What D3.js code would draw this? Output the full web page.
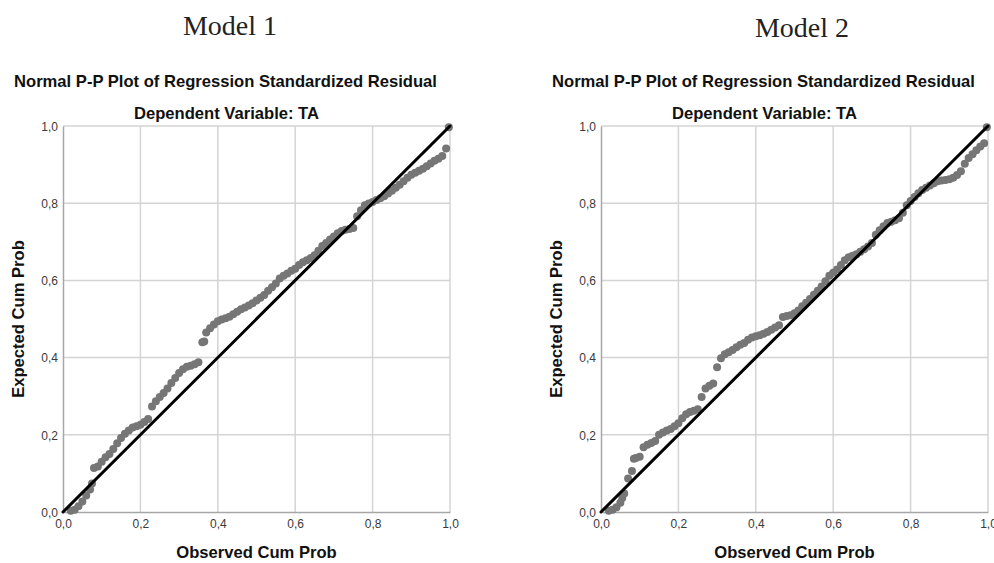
<!DOCTYPE html>
<html>
<head>
<meta charset="utf-8">
<script src="https://cdn.jsdelivr.net/npm/d3@7"></script>
<style>
  body { margin: 0; background: #fff; }
  svg { display: block; }
  .model-title { font-family: "Liberation Serif", "DejaVu Serif", serif; font-size: 28px; fill: #222; }
  .chart-title { font-family: "Liberation Sans", Arial, sans-serif; font-weight: bold; font-size: 16.6px; fill: #111; }
  .axis-label { font-family: "Liberation Sans", Arial, sans-serif; font-weight: bold; font-size: 16.6px; fill: #111; }
  .tick-label { font-family: "Liberation Sans", Arial, sans-serif; font-size: 12px; fill: #3a3a3a; }
</style>
</head>
<body>
<svg id="chart" width="994" height="563"></svg>
<script>
const ticks = [0, 0.2, 0.4, 0.6, 0.8, 1.0];
const modelNames = ["Model 1", "Model 2"];
const chartTitle = "Normal P-P Plot of Regression Standardized Residual";
const subTitle = "Dependent Variable: TA";
const xLabel = "Observed Cum Prob";
const yLabel = "Expected Cum Prob";

// observed cum prob, expected cum prob
const model1 = [
  [0.02, 0.003], [0.03, 0.006], [0.04, 0.015], [0.05, 0.027], [0.06, 0.043],
  [0.07, 0.058], [0.075, 0.074], [0.08, 0.114], [0.09, 0.118], [0.10, 0.130],
  [0.11, 0.142], [0.12, 0.150], [0.13, 0.163], [0.14, 0.178], [0.15, 0.192],
  [0.16, 0.203], [0.17, 0.211], [0.18, 0.219], [0.19, 0.222], [0.20, 0.226],
  [0.21, 0.233], [0.22, 0.241], [0.23, 0.273], [0.24, 0.287], [0.25, 0.298],
  [0.26, 0.308], [0.27, 0.320], [0.28, 0.334], [0.29, 0.347], [0.30, 0.360],
  [0.31, 0.370], [0.32, 0.376], [0.33, 0.379], [0.34, 0.383], [0.35, 0.388],
  [0.36, 0.440], [0.365, 0.442], [0.37, 0.465], [0.38, 0.476], [0.39, 0.486],
  [0.40, 0.494], [0.41, 0.499], [0.42, 0.502], [0.43, 0.506], [0.44, 0.512],
  [0.45, 0.519], [0.46, 0.525], [0.47, 0.530], [0.48, 0.535], [0.49, 0.541],
  [0.50, 0.548], [0.51, 0.555], [0.52, 0.562], [0.53, 0.573], [0.54, 0.582],
  [0.55, 0.592], [0.56, 0.605], [0.57, 0.612], [0.58, 0.618], [0.59, 0.625],
  [0.60, 0.630], [0.61, 0.640], [0.62, 0.647], [0.63, 0.652], [0.64, 0.658],
  [0.65, 0.665], [0.66, 0.677], [0.67, 0.689], [0.68, 0.697], [0.69, 0.706],
  [0.70, 0.714], [0.71, 0.722], [0.72, 0.728], [0.73, 0.731], [0.74, 0.733],
  [0.75, 0.736], [0.76, 0.766], [0.77, 0.782], [0.78, 0.795], [0.79, 0.799],
  [0.80, 0.803], [0.81, 0.808], [0.82, 0.813], [0.83, 0.818], [0.84, 0.825],
  [0.85, 0.832], [0.86, 0.840], [0.87, 0.848], [0.88, 0.857], [0.89, 0.866],
  [0.90, 0.874], [0.91, 0.879], [0.92, 0.884], [0.93, 0.889], [0.94, 0.896],
  [0.95, 0.903], [0.96, 0.910], [0.97, 0.915], [0.98, 0.922], [0.99, 0.942],
  [0.997, 0.997]
];

const model2 = [
  [0.02, 0.003], [0.03, 0.006], [0.04, 0.012], [0.05, 0.024], [0.055, 0.036],
  [0.06, 0.048], [0.07, 0.087], [0.08, 0.106], [0.085, 0.138], [0.09, 0.140],
  [0.10, 0.143], [0.11, 0.168], [0.12, 0.174], [0.13, 0.179], [0.14, 0.184],
  [0.15, 0.200], [0.16, 0.206], [0.17, 0.211], [0.18, 0.215], [0.19, 0.222],
  [0.20, 0.230], [0.21, 0.243], [0.22, 0.253], [0.23, 0.259], [0.24, 0.262],
  [0.25, 0.266], [0.26, 0.298], [0.27, 0.320], [0.28, 0.327], [0.29, 0.333],
  [0.30, 0.375], [0.31, 0.398], [0.32, 0.409], [0.33, 0.414], [0.34, 0.420],
  [0.35, 0.427], [0.36, 0.433], [0.37, 0.438], [0.38, 0.446], [0.39, 0.452],
  [0.40, 0.455], [0.41, 0.458], [0.42, 0.462], [0.43, 0.466], [0.44, 0.472],
  [0.45, 0.478], [0.46, 0.484], [0.47, 0.505], [0.48, 0.508], [0.49, 0.510],
  [0.50, 0.515], [0.51, 0.522], [0.52, 0.533], [0.53, 0.542], [0.54, 0.552],
  [0.55, 0.563], [0.56, 0.573], [0.57, 0.584], [0.58, 0.598], [0.59, 0.612],
  [0.60, 0.620], [0.61, 0.628], [0.62, 0.640], [0.63, 0.652], [0.64, 0.660],
  [0.65, 0.664], [0.66, 0.668], [0.67, 0.674], [0.68, 0.681], [0.69, 0.688],
  [0.70, 0.697], [0.71, 0.718], [0.72, 0.730], [0.73, 0.740], [0.74, 0.749],
  [0.75, 0.752], [0.76, 0.756], [0.77, 0.761], [0.78, 0.775], [0.79, 0.795],
  [0.80, 0.806], [0.81, 0.816], [0.82, 0.826], [0.83, 0.834], [0.84, 0.840],
  [0.85, 0.846], [0.86, 0.852], [0.87, 0.857], [0.88, 0.859], [0.89, 0.860],
  [0.90, 0.862], [0.91, 0.866], [0.92, 0.873], [0.93, 0.883], [0.94, 0.902],
  [0.95, 0.917], [0.96, 0.927], [0.97, 0.937], [0.98, 0.947], [0.99, 0.955],
  [0.997, 0.997]
];

const PANELS = [
  { name: modelNames[0], data: model1, left: 63, right: 450, nameX: 230, nameY: 35 },
  { name: modelNames[1], data: model2, left: 601, right: 988, nameX: 802, nameY: 37 }
];
const TOP = 126;
const BOTTOM = 512;

const tickFormat = d => d3.format(".1f")(d).replace(".", ",");

const svg = d3.select("#chart");

const drawPanel = function(p) {
  const x = d3.scaleLinear().domain([0, 1]).range([p.left, p.right]);
  const y = d3.scaleLinear().domain([0, 1]).range([BOTTOM, TOP]);
  const midTitle = (p.left + p.right) / 2 - 31;
  const g = svg.append("g");

  g.append("text")
    .attr("class", "model-title")
    .attr("x", p.nameX)
    .attr("y", p.nameY)
    .attr("text-anchor", "middle")
    .text(p.name);

  g.append("text")
    .attr("class", "chart-title")
    .attr("x", midTitle)
    .attr("y", 87)
    .attr("text-anchor", "middle")
    .text(chartTitle);

  g.append("text")
    .attr("class", "chart-title")
    .attr("x", midTitle + 1)
    .attr("y", 119)
    .attr("text-anchor", "middle")
    .text(subTitle);

  // grid
  const grid = ticks.filter(t => t > 0);
  g.append("g").selectAll("line.vx")
    .data(grid).enter().append("line")
    .attr("x1", d => x(d)).attr("x2", d => x(d))
    .attr("y1", y(0)).attr("y2", y(1))
    .attr("stroke", "#d4d4d4").attr("stroke-width", 1.5);
  g.append("g").selectAll("line.hy")
    .data(grid).enter().append("line")
    .attr("x1", x(0)).attr("x2", x(1))
    .attr("y1", d => y(d)).attr("y2", d => y(d))
    .attr("stroke", "#d4d4d4").attr("stroke-width", 1.5);

  // axes
  const xAxis = d3.axisBottom(x).tickValues(ticks).tickFormat(tickFormat).tickSize(0).tickPadding(7);
  const yAxis = d3.axisLeft(y).tickValues(ticks).tickFormat(tickFormat).tickSize(0).tickPadding(5);
  const gx = g.append("g").attr("transform", `translate(0,${BOTTOM})`).call(xAxis);
  const gy = g.append("g").attr("transform", `translate(${p.left},0)`).call(yAxis);
  [gx, gy].forEach(a => {
    a.select(".domain").attr("stroke", "#a6a6a6").attr("stroke-width", 1.5);
    a.selectAll("text").attr("class", "tick-label").attr("fill", null);
  });
  gy.selectAll("text").attr("dy", "0.35em");

  // points
  g.append("g").selectAll("circle")
    .data(p.data).enter().append("circle")
    .attr("cx", d => x(d[0]))
    .attr("cy", d => y(d[1]))
    .attr("r", 4)
    .attr("fill", "#767676");

  // reference line
  g.append("line")
    .attr("x1", x(0)).attr("y1", y(0))
    .attr("x2", x(1)).attr("y2", y(1))
    .attr("stroke", "#000").attr("stroke-width", 3)
    .attr("stroke-linecap", "round");

  g.append("text")
    .attr("class", "axis-label")
    .attr("x", (p.left + p.right) / 2)
    .attr("y", 558)
    .attr("text-anchor", "middle")
    .text(xLabel);

  g.append("text")
    .attr("class", "axis-label")
    .attr("transform", `translate(${p.left - 39},${(TOP + BOTTOM) / 2}) rotate(-90)`)
    .attr("text-anchor", "middle")
    .text(yLabel);
};

PANELS.forEach(drawPanel);
</script>
</body>
</html>
